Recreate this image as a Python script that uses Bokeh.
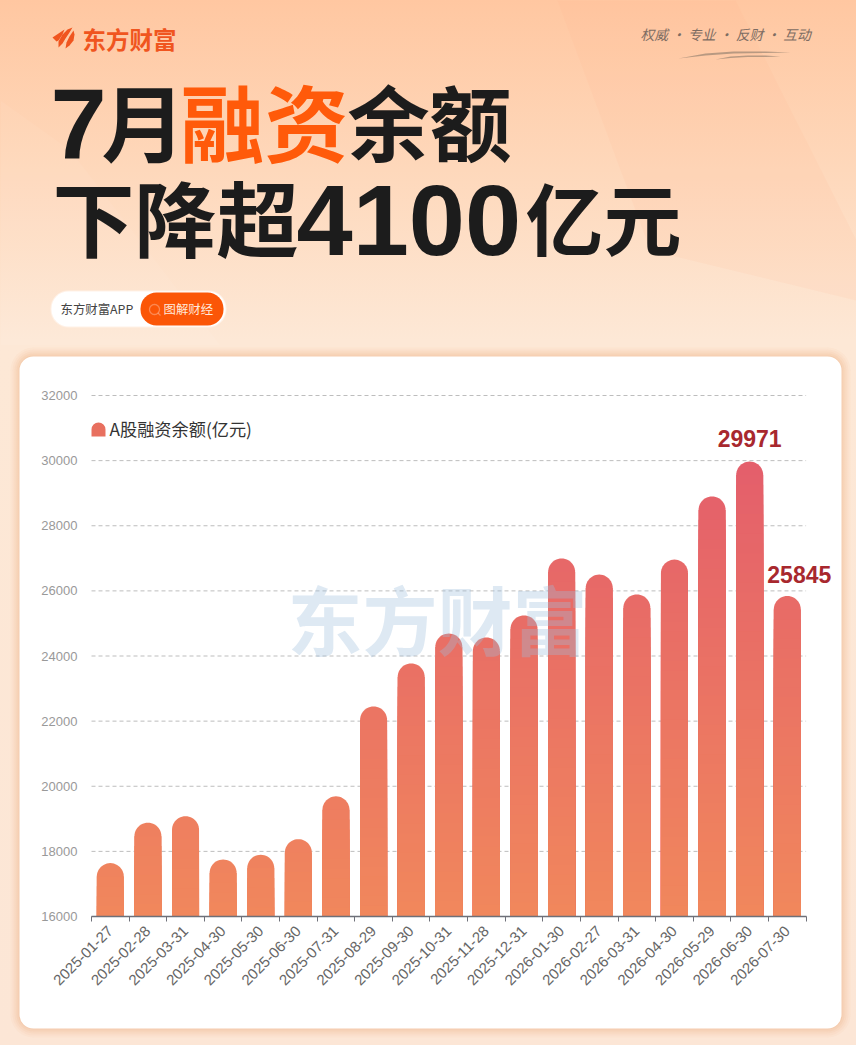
from bokeh.embed import file_html
from bokeh.resources import INLINE
from bokeh.plotting import figure
from bokeh.models import Label, BoxAnnotation, PolyAnnotation, FixedTicker, Range1d
import math

dates = ["2025-01-27","2025-02-28","2025-03-31","2025-04-30","2025-05-30","2025-06-30","2025-07-31",
         "2025-08-29","2025-09-30","2025-10-31","2025-11-28","2025-12-31","2026-01-30","2026-02-27",
         "2026-03-31","2026-04-30","2026-05-29","2026-06-30","2026-07-30"]
balance = [17640,18880,19080,17750,17895,18375,19690,22450,23770,24690,24570,25245,26995,26500,
           25890,26960,28900,29971,25845]
y_ticks = [16000,18000,20000,22000,24000,26000,28000,30000,32000]

W, H = 856, 1045
CJK = "Noto Sans CJK SC"
LAT = "Liberation Sans"
n = len(dates)

# chart area in page pixels
L, R, T, B = 91, 805.6, 395, 916
ppx = (R - L) / n
ppy = (B - T) / (y_ticks[-1] - y_ticks[0])
x_range = Range1d(-L / ppx, n + (W - R) / ppx)
y_range = Range1d(y_ticks[0] - (H - B) / ppy, y_ticks[-1] + T / ppy)

p = figure(width=W, height=H, output_backend="svg", toolbar_location=None,
           x_range=x_range, y_range=y_range,
           min_border_left=0, min_border_right=0, min_border_top=0, min_border_bottom=0)
p.styles = {"position": "absolute", "left": "0", "top": "0",
            "background": "linear-gradient(180deg,#ffc7a1 0px,#fed8bb 170px,#fde8d6 340px,#fce6d6 1045px)"}
p.border_fill_alpha = 0
p.background_fill_alpha = 0
p.outline_line_color = None

def sy(y):
    return H - y

def box(l, t, r, b, color, alpha=1.0, radius=0, level="image"):
    p.add_layout(BoxAnnotation(left=l, right=r, top=sy(t), bottom=sy(b),
                               left_units="screen", right_units="screen",
                               top_units="screen", bottom_units="screen",
                               fill_color=color, fill_alpha=alpha, line_color=None,
                               border_radius=radius, level=level, editable=False))

def poly(pts, color, alpha=1.0, line=None, lw=1, level="image"):
    p.add_layout(PolyAnnotation(xs=[a for a, _ in pts], ys=[sy(b) for _, b in pts],
                                xs_units="screen", ys_units="screen",
                                fill_color=color, fill_alpha=alpha,
                                line_color=line, line_width=lw, level=level))

def text(x, y, s, size, color, font=CJK, style="normal", align="left", alpha=1.0):
    p.add_layout(Label(x=x, y=sy(y), x_units="screen", y_units="screen", text=s,
                       text_font=font, text_font_size=f"{size}px", text_font_style=style,
                       text_color=color, text_align=align, text_baseline="middle", text_alpha=alpha))

# background streaks
poly([(557,0),(735,0),(856,240),(856,300),(650,250)], "#fdb48a", 0.10)
poly([(0,100),(70,150),(220,345),(0,345)], "#ffffff", 0.05)

# card with shadow
for d, a in [(9,.05),(7,.06),(5,.07),(3,.09),(1,.12)]:
    box(19-d, 356-d, 841+d, 1028+d, "#e79a68", a, 14+d)
box(19, 356, 841, 1028, "#ffffff", 1, 14)

# logo
c = "#f0551f"
poly([(52,37),(58,33),(64,29),(62,34),(58,40),(56,41)], c)
poly([(58,47),(58,41),(62,34),(67,29),(72,27),(69,32),(65,38),(62,43)], c)
poly([(65,48),(66,42),(69,36),(73,30),(74,34),(73,40),(69,45)], c)
text(82, 38, "东方财富", 23.5, c, style="bold")

# slogan
text(640, 33, "权威 · 专业 · 反财 · 互动", 13.8, "#7d6c62", style="italic")
poly([(678,58),(705,53),(733,51),(765,51),(790,52),(765,52.5),(733,53),(705,55)], "#9a8472", 0.7)
poly([(715,59),(730,56),(747,55),(765,55),(780,56),(765,56.5),(747,56.5),(730,57.5)], "#9a8472", 0.7)

# title
k = "#1c1c1c"
o = "#ff5a0a"
text(50, 123, "7", 101, k, font=LAT, style="bold")
text(101, 119, "月", 84, k, style="bold")
text(180, 119, "融资", 84, o, style="bold")
text(347, 119, "余额", 82, k, style="bold")
text(52, 215, "下降超", 82, k, style="bold")
text(296, 219, "4100", 101, k, font=LAT, style="bold")
text(525, 215, "亿元", 78, k, style="bold")

# pill
box(50, 290, 226, 327, "#fff1e6", 1, 18)
box(51, 291, 225, 326, "#ffffff", 1, 17)
box(140, 292, 223, 325, "#fb5607", 1, 16)
text(60, 308, "东方财富APP", 12.4, "#444444")
text(163, 308, "图解财经", 12.4, "#ffe9dc")
poly([(154 + 5*math.cos(i*math.pi/12), 309 + 5*math.sin(i*math.pi/12)) for i in range(24)],
     "#fb5607", 1, line="#ffffff", lw=1.3, level="annotation")
poly([(157.5,312.5),(160,315)], "#ffffff", 1, line="#ffffff", lw=1.3, level="annotation")

# legend
box(91, 422, 105, 436, "#e8705f", 1, (7,7,0,0), level="annotation")
text(109, 428, "A股融资余额(亿元)", 17.2, "#333333")

# axes
centres = [i + 0.5 for i in range(n)]
edges = list(range(n + 1))
xa = p.xaxis[0]
xa.fixed_location = y_ticks[0]
xa.bounds = (0, n)
xa.ticker = FixedTicker(ticks=centres, minor_ticks=edges)
xa.major_label_overrides = {c_: d for c_, d in zip(centres, dates)}
xa.major_label_orientation = math.pi / 4
xa.major_label_text_font = LAT
xa.major_label_text_font_size = "15px"
xa.major_label_text_color = "#666666"
xa.major_label_standoff = 7
xa.major_tick_out = 0
xa.major_tick_in = 0
xa.minor_tick_out = 5
xa.minor_tick_in = 0
xa.minor_tick_line_color = "#6e7079"
xa.axis_line_color = "#6e7079"
xa.axis_line_width = 1.5

ya = p.yaxis[0]
ya.fixed_location = 0
ya.ticker = FixedTicker(ticks=y_ticks)
ya.major_tick_line_color = None
ya.minor_tick_line_color = None
ya.major_tick_out = 0
ya.major_tick_in = 0
ya.axis_line_color = None
ya.major_label_text_font = LAT
ya.major_label_text_font_size = "13px"
ya.major_label_text_color = "#999999"
ya.major_label_standoff = 14

p.grid.visible = False
p.segment(x0=[0] * len(y_ticks), x1=[n] * len(y_ticks), y0=y_ticks, y1=y_ticks,
          line_color="#bdbdbd", line_dash="4 3", line_width=1)

# bars with a vertical gradient shared by all bars
def grad(v):
    t = max(0, min(1, (v - 16000) / 14000))
    a, b = (0xF1, 0x88, 0x5C), (0xE4, 0x5F, 0x6B)
    return "#%02x%02x%02x" % tuple(round(a[i] + (b[i] - a[i]) * t) for i in range(3))

RX = 13.5 / ppx
RY = 13.5 / ppy
xs_, ys_, cs_ = [], [], []
for c_, v in zip(centres, balance):
    # rounded top of the bar, then bands that overlap downwards
    shape_x = [c_ - RX]
    shape_y = [y_ticks[0]]
    for i in range(25):
        a = math.pi - i * math.pi / 24
        shape_x.append(c_ + RX * math.cos(a))
        shape_y.append(v - RY + RY * math.sin(a))
    shape_x.append(c_ + RX)
    shape_y.append(y_ticks[0])
    xs_.append(shape_x); ys_.append(shape_y); cs_.append(grad(v))
    lev = v - RY
    while lev > y_ticks[0]:
        xs_.append([c_ - RX, c_ + RX, c_ + RX, c_ - RX])
        ys_.append([y_ticks[0], y_ticks[0], lev, lev])
        cs_.append(grad(lev))
        lev -= 300
p.patches(xs_, ys_, fill_color=cs_, line_color=None)

# watermark above the bars
text(287, 617, "东方财富", 75, "#9fbfdb", style="bold", alpha=0.34)

# value labels
for idx, dx, dy in [(n - 2, 0, 15), (n - 1, 12, 13)]:
    p.add_layout(Label(x=centres[idx], y=balance[idx], text=str(balance[idx]), x_offset=dx, y_offset=dy,
                       text_font=LAT, text_font_style="bold", text_font_size="23px",
                       text_color="#a8282e", text_align="center", text_baseline="bottom"))

open("out.html", "w").write(file_html(p, INLINE))
